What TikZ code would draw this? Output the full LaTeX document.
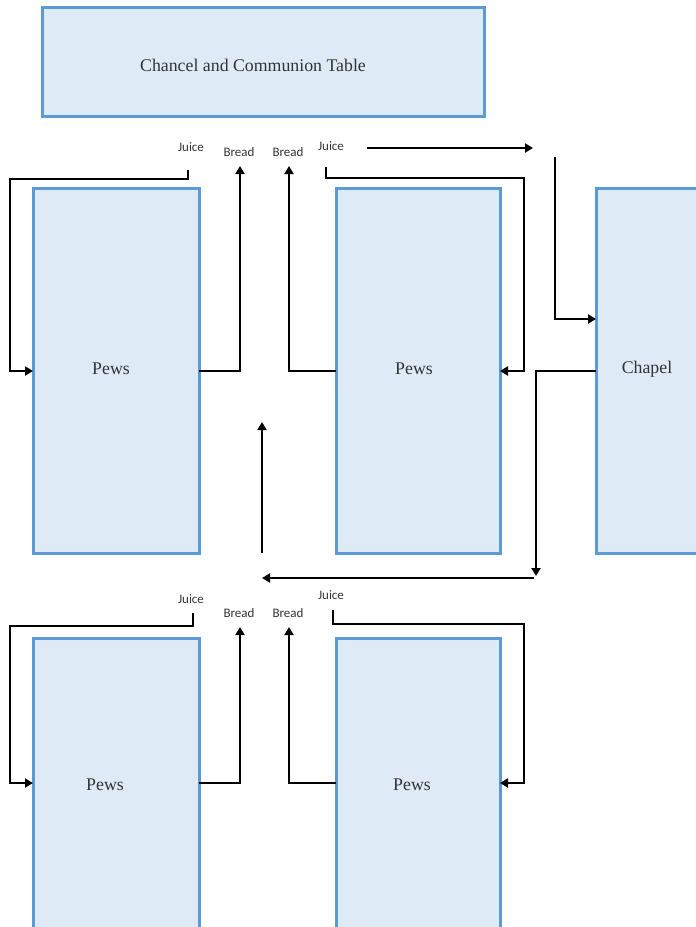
\documentclass[tikz,border=0pt]{standalone}
\usepackage{fontspec}
\setmainfont{Liberation Serif}
\newfontfamily\labelfont{Carlito}
\usetikzlibrary{arrows.meta}
\definecolor{boxfill}{HTML}{DEEAF6}
\definecolor{boxline}{HTML}{5B9BD5}
\definecolor{txt}{HTML}{333333}
\tikzset{
  box/.style={draw=boxline, fill=boxfill, line width=3pt, inner sep=0pt, outer sep=0pt},
  boxtext/.style={font=\fontsize{17.8}{19}\selectfont, text=txt, inner sep=0pt},
  lab/.style={font=\labelfont\fontsize{13}{14}\selectfont, text=txt, inner sep=0pt},
  flow/.style={draw=black, line width=2.4pt},
  flowarr/.style={flow, -{Triangle[length=8pt,width=9pt]}},
}
\begin{document}
\begin{tikzpicture}[x=1pt,y=-1pt]
\useasboundingbox (0,0) rectangle (696,927);
\clip (0,0) rectangle (696,927);
% boxes
\node[box, minimum width=442pt, minimum height=109pt] (chancel) at (263,61.5) {};
\node[box, minimum width=166pt, minimum height=365pt] (ptl) at (116,370.5) {};
\node[box, minimum width=164pt, minimum height=365pt] (ptm) at (418,370.5) {};
\node[box, minimum width=106pt, minimum height=365pt] (chapel) at (649,370.5) {};
\node[box, minimum width=166pt, minimum height=302pt] (pbl) at (116,789) {};
\node[box, minimum width=164pt, minimum height=302pt] (pbr) at (418,789) {};
% box texts
\node[boxtext] (tchancel) at (253,65) {Chancel and Communion Table};
\node[boxtext] (tptl) at (111,369) {Pews};
\node[boxtext] (tptm) at (414,369) {Pews};
\node[boxtext] (tchapel) at (647,369) {Chapel};
\node[boxtext] (tpbl) at (105,785) {Pews};
\node[boxtext] (tpbr) at (412,785) {Pews};
% labels top
\node[lab] (j1) at (191,147) {Juice};
\node[lab] (b1) at (239,152) {Bread};
\node[lab] (b2) at (288,152) {Bread};
\node[lab] (j2) at (331,146) {Juice};
% labels bottom
\node[lab] (j3) at (191,599) {Juice};
\node[lab] (b3) at (239,613) {Bread};
\node[lab] (b4) at (288,613) {Bread};
\node[lab] (j4) at (331,595) {Juice};
% coordinates
\coordinate (c1) at (188,170);
\coordinate (c2) at (240,166);
\coordinate (c3) at (289,166);
\coordinate (c4) at (326,167);
\coordinate (c5a) at (367,148);
\coordinate (c5b) at (533,148);
\coordinate (c6) at (555,157);
\coordinate (c7) at (536,576);
\coordinate (c8a) at (534,578);
\coordinate (c8b) at (262,578);
\coordinate (c9a) at (262,553);
\coordinate (c9b) at (262,422);
\coordinate (d1) at (193,613);
\coordinate (d2) at (240,627);
\coordinate (d3) at (289,627);
\coordinate (d4) at (333,610);
% top connectors
\draw[flowarr] (c1) -- (188,179) -- (10,179) -- (10,371) -- (ptl.west |- 0,371);
\draw[flowarr] (ptl.east |- 0,371) -- (240,371) -- (c2);
\draw[flowarr] (ptm.west |- 0,371) -- (289,371) -- (c3);
\draw[flowarr] (c4) -- (326,178) -- (524,178) -- (524,371) -- (ptm.east |- 0,371);
\draw[flowarr] (c5a) -- (c5b);
\draw[flowarr] (c6) -- (555,319) -- (chapel.west |- 0,319);
\draw[flowarr] (chapel.west |- 0,371) -- (536,371) -- (c7);
\draw[flowarr] (c8a) -- (c8b);
\draw[flowarr] (c9a) -- (c9b);
% bottom connectors
\draw[flowarr] (d1) -- (193,626) -- (10,626) -- (10,783) -- (pbl.west |- 0,783);
\draw[flowarr] (pbl.east |- 0,783) -- (240,783) -- (d2);
\draw[flowarr] (pbr.west |- 0,783) -- (289,783) -- (d3);
\draw[flowarr] (d4) -- (333,624) -- (524,624) -- (524,783) -- (pbr.east |- 0,783);
\end{tikzpicture}
\end{document}
